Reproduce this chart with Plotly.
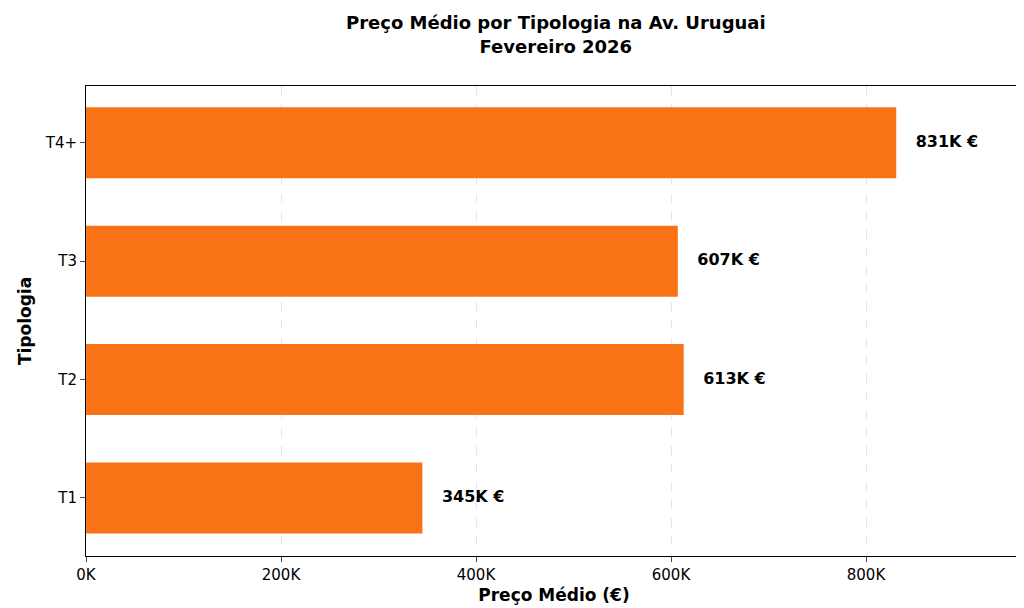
import plotly.graph_objects as go

tipologias = ["T1", "T2", "T3", "T4+"]
precos = [345000, 613000, 607000, 831000]
rotulos = ["<b>345K €</b>", "<b>613K €</b>", "<b>607K €</b>", "<b>831K €</b>"]
tick_vals = [0, 200000, 400000, 600000, 800000]
tick_text = ["0K", "200K", "400K", "600K", "800K"]

fig = go.Figure()
fig.add_trace(go.Bar(x=precos, y=tipologias, orientation="h", width=0.6,
                     marker=dict(color="#f97316", line=dict(width=0))))
fig.add_trace(go.Scatter(x=[p + 20000 for p in precos], y=tipologias, mode="text",
                         text=rotulos, textposition="middle right",
                         textfont=dict(size=16, color="black", family="DejaVu Sans"),
                         cliponaxis=False))

fig.update_layout(
    width=1024, height=608, showlegend=False,
    plot_bgcolor="white", paper_bgcolor="white",
    font=dict(family="DejaVu Sans", color="black", size=15),
    margin=dict(l=78, r=10, t=78, b=60, autoexpand=False),
    title=dict(text="<b>Preço Médio por Tipologia na Av. Uruguai<br>Fevereiro 2026</b>",
               x=0.535, xanchor="center", y=0.965, yanchor="top", font=dict(size=18),
               automargin=False),
    xaxis=dict(range=[0, 960000], tickvals=tick_vals, ticktext=tick_text, automargin=False,
               showgrid=True, gridcolor="#e5e5e5", griddash="dash", gridwidth=1,
               showline=True, linecolor="black", mirror=True, ticks="outside",
               ticklen=5, zeroline=False,
               title=dict(text="<b>Preço Médio (€)</b>", font=dict(size=17), standoff=6)),
    yaxis=dict(range=[-0.49, 3.48], showgrid=False, showline=True, linecolor="black",
               mirror=True, ticks="outside", ticklen=5, automargin=False,
               title=dict(text="<b>Tipologia</b>", font=dict(size=17), standoff=8)),
)

fig.write_html("out.html")
